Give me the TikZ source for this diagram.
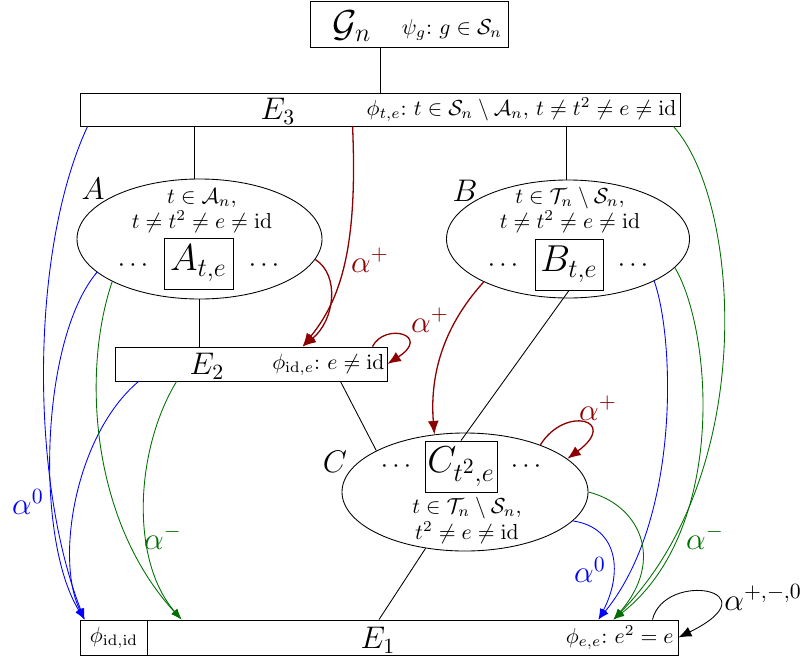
\documentclass[tikz,border=0pt]{standalone}
\usetikzlibrary{shapes.geometric,arrows.meta,calc}
\definecolor{dred}{RGB}{140,0,0}
\definecolor{dgreen}{RGB}{0,110,0}
\begin{document}
\begin{tikzpicture}[x=0.4608pt,y=-0.4608pt,
  sz/.style 2 args={minimum width=#1*0.4608pt, minimum height=#2*0.4608pt},
  box/.style={draw, rectangle, inner sep=0pt},
  ell/.style={draw, ellipse, inner sep=0pt},
  lbl/.style={inner sep=0pt},
  big/.style={font=\LARGE},
  mid/.style={font=\Large},
  dots/.style={inner sep=0pt, font=\large},
  bluearr/.style={blue, -{Latex[length=5pt,width=3.6pt]}},
  greenarr/.style={dgreen, -{Latex[length=5pt,width=3.6pt]}},
  redarr/.style={dred, semithick, -{Latex[length=6.2pt,width=5pt]}},
  blackarr/.style={black, -{Latex[length=6pt,width=4.8pt]}},
]
\useasboundingbox (0,0) rectangle (801,662);

% top box
\node[box, sz={198}{46}] (G) at (409,24) {};
\node[lbl, big] (Gn) at (352,26) {$\mathcal{G}_n$};
\node[lbl] (psi) at (452,30) {$\psi_g\colon\, g\in\mathcal{S}_n$};

% E3
\node[box, sz={600}{33}] (E3) at (380,109.5) {};
\node[lbl, mid] (E3t) at (278,111) {$E_3$};
\node[lbl, anchor=east] (phi3) at (677,110) {$\phi_{t,e}\colon\, t\in\mathcal{S}_n\setminus\mathcal{A}_n,\, t\neq t^2\neq e\neq\mathrm{id}$};

% A
\node[ell, sz={245}{120}] (A) at (199.5,239) {};
\node[lbl, mid] (Al) at (93,189) {$A$};
\node[lbl] (A1) at (202,198) {$t\in\mathcal{A}_n,$};
\node[lbl] (A2) at (202,222) {$t\neq t^2\neq e\neq\mathrm{id}$};
\node[box, sz={69}{51}, big] (Ate) at (198.5,263.5) {$A_{t,e}$};
\node[dots] (Ad1) at (133,266) {$\cdots$};
\node[dots] (Ad2) at (264,266) {$\cdots$};

% B
\node[ell, sz={243}{118}] (B) at (568,239) {};
\node[lbl, mid] (Bl) at (465,191) {$B$};
\node[lbl] (B1) at (570,198) {$t\in\mathcal{T}_n\setminus\mathcal{S}_n,$};
\node[lbl] (B2) at (570,222) {$t\neq t^2\neq e\neq\mathrm{id}$};
\node[box, sz={68}{51}, big] (Bte) at (569,264.5) {$B_{t,e}$};
\node[dots] (Bd1) at (503,266) {$\cdots$};
\node[dots] (Bd2) at (633,266) {$\cdots$};

% E2
\node[box, sz={272}{34}] (E2) at (251,364) {};
\node[lbl, mid] (E2t) at (207,366) {$E_2$};
\node[lbl, anchor=east] (phi2) at (385,365) {$\phi_{\mathrm{id},e}\colon\, e\neq\mathrm{id}$};

% C
\node[ell, sz={246}{118}] (C) at (465,492) {};
\node[lbl, mid] (Cl) at (335,462) {$C$};
\node[box, sz={72}{51}, big] (Cte) at (461,466.5) {$C_{t^2,e}$};
\node[dots] (Cd1) at (396,467) {$\cdots$};
\node[dots] (Cd2) at (526,467) {$\cdots$};
\node[lbl] (C1) at (467,508) {$t\in\mathcal{T}_n\setminus\mathcal{S}_n,$};
\node[lbl] (C2) at (467,533) {$t^2\neq e\neq\mathrm{id}$};

% E1
\node[box, sz={598}{35}] (E1) at (379,637.5) {};
\node[lbl] (phiid) at (114,638) {$\phi_{\mathrm{id},\mathrm{id}}$};
\node[lbl, mid] (E1t) at (378,640) {$E_1$};
\node[lbl, anchor=east] (phi1) at (674,638) {$\phi_{e,e}\colon\, e^2=e$};
\draw ($(E1.north west)+(68,0)$) -- ($(E1.south west)+(68,0)$);

% black connectors
\draw (E3.north) -- (E3.north |- G.south);
\draw (A.95) -- (A.95 |- E3.south);
\draw (B.92) -- (B.92 |- E3.south);
\draw (A.south) -- (A.south |- E2.north);
\draw ($(E2.south east)+(-47,0)$) -- (C.155);
\draw (Bte.south) -- (Cte.north);
\draw (C.235) -- (E1.north);

% arrow tips on E1 and E2
\coordinate (tb1) at ($(E1.north west)+(5,0)$);
\coordinate (tg1) at ($(E1.north west)+(102,0)$);
\coordinate (tb2) at ($(E1.north east)+(-80,0)$);
\coordinate (tg2) at ($(E1.north east)+(-65,0)$);
\coordinate (tr1) at ($(E2.north west)+(188,0)$);
\coordinate (tk1) at ($(E1.north east)+(-26,0)$);

% blue
\draw[bluearr] ($(E3.south west)+(8,0)$) .. controls (30,250) and (30,480) .. (tb1);
\draw[bluearr] (A.198) .. controls (40,340) and (35,540) .. (tb1);
\draw[bluearr] ($(E2.south west)+(24,0)$) .. controls (75,435) and (55,560) .. (tb1);
\draw[bluearr] (B.334) .. controls (675,340) and (680,520) .. (tb2);
\draw[bluearr] (C.345) .. controls (620,528) and (622,575) .. (tb2);

% green
\draw[greenarr] (A.206) .. controls (82,370) and (90,520) .. (tg1);
\draw[greenarr] ($(E2.south west)+(62,0)$) .. controls (135,450) and (130,560) .. (tg1);
\draw[greenarr] ($(E3.south east)+(-7,0)$) .. controls (740,200) and (760,470) .. (tg2);
\draw[greenarr] (B.345) .. controls (712,330) and (728,530) .. (tg2);
\draw[greenarr] (C.east) .. controls (640,505) and (665,560) .. (tg2);

% red
\draw[redarr] (A.350) .. controls (340,275) and (335,320) .. (tr1);
\draw[redarr] ($(E3.south west)+(273,0)$) .. controls (358,250) and (340,300) .. (tr1);
\draw[redarr] ($(E2.north east)+(-15,0)$) .. controls (385,322) and (432,335) .. (E2.east);
\draw[redarr] (B.207) .. controls (440,330) and (430,380) .. (C.118);
\draw[redarr] (C.32) .. controls (565,405) and (620,420) .. (C.18);

% black loop
\draw[blackarr] (tk1) .. controls (665,570) and (775,590) .. (E1.east);

% labels
\node[lbl, mid, blue] (la1) at (28,502) {$\alpha^0$};
\node[lbl, mid, blue] (la2) at (590,570) {$\alpha^0$};
\node[lbl, mid, dgreen] (la3) at (163,537) {$\alpha^-$};
\node[lbl, mid, dgreen] (la4) at (705,537) {$\alpha^-$};
\node[lbl, mid, dred] (la5) at (370,260) {$\alpha^+$};
\node[lbl, mid, dred] (la6) at (430,320) {$\alpha^+$};
\node[lbl, mid, dred] (la7) at (598,408) {$\alpha^+$};
\node[lbl, mid, anchor=base west] (la8) at (724,610) {$\alpha^{+,-,0}$};
\end{tikzpicture}
\end{document}
